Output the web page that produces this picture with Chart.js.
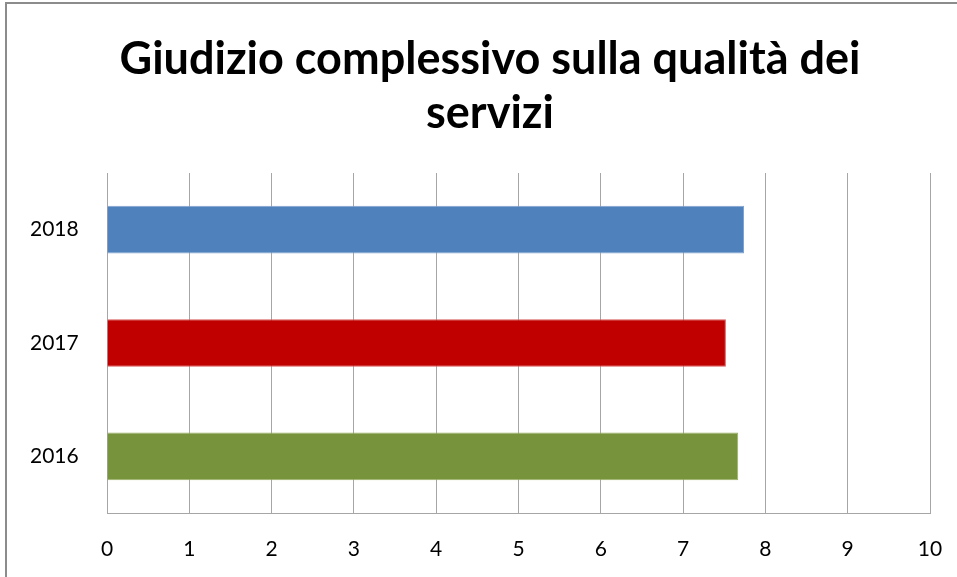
<!DOCTYPE html>
<html>
<head>
<meta charset="utf-8">
<script src="https://cdn.jsdelivr.net/npm/chart.js@4/dist/chart.umd.min.js"></script>
<style>
  html, body { margin: 0; padding: 0; background: #fff; }
  #wrap { position: relative; width: 957px; height: 577px; overflow: hidden; }
  #frame { position: absolute; left: 5px; top: 2px; width: 1000px; height: 700px; border: 2px solid #8c8c8c; box-sizing: border-box; }
  canvas { position: absolute; left: 0; top: 0; }
</style>
</head>
<body>
<div id="wrap">
  <div id="frame"></div>
  <canvas id="chart" width="988" height="577"></canvas>
</div>
<script>
const years = ['2018', '2017', '2016'];
const scores = [7.74, 7.52, 7.67];
const barColors = ['#4F81BD', '#C00000', '#77933C'];
const barEdges = ['#7FA3D0', '#D9585A', '#9AB065'];
const xTicks = [0, 1, 2, 3, 4, 5, 6, 7, 8, 9, 10];

function renderScoreChart(canvasId) {
  const ctx = document.getElementById(canvasId).getContext('2d');
  return new Chart(ctx, {
    type: 'bar',
    data: {
      labels: years,
      datasets: [{
        data: scores,
        backgroundColor: barColors,
        borderColor: barEdges,
        borderWidth: 1,
        categoryPercentage: 1,
        barPercentage: 0.42
      }]
    },
    options: {
      indexAxis: 'y',
      responsive: false,
      animation: false,
      // wide left padding keeps the title centred on the visible frame
      layout: { padding: { left: 50, right: 58, top: 0, bottom: 0 } },
      plugins: {
        legend: { display: false },
        tooltip: { enabled: false },
        title: {
          display: true,
          text: ['Giudizio complessivo sulla qualità dei', 'servizi'],
          color: '#000',
          font: { family: 'Lato', size: 45, weight: 'bold' },
          lineHeight: 1.18,
          padding: { top: 32, bottom: 33 }
        }
      },
      scales: {
        x: {
          min: 0,
          max: 10,
          afterBuildTicks: (s) => { s.ticks = xTicks.map((v) => ({ value: v })); },
          afterFit: (s) => { s.height = 64; },
          grid: { color: '#a6a6a6', lineWidth: 1, drawTicks: false },
          border: { color: '#a6a6a6' },
          ticks: { color: '#000', padding: 24, font: { family: 'Lato', size: 21 } }
        },
        y: {
          afterFit: (s) => { s.width = 57; },
          grid: { display: false, drawTicks: false },
          border: { display: false },
          // mirrored labels are not clipped to the narrow axis box
          ticks: { mirror: true, color: '#000', padding: -77, font: { family: 'Lato', size: 21 } }
        }
      }
    }
  });
}

renderScoreChart('chart');
</script>
</body>
</html>
